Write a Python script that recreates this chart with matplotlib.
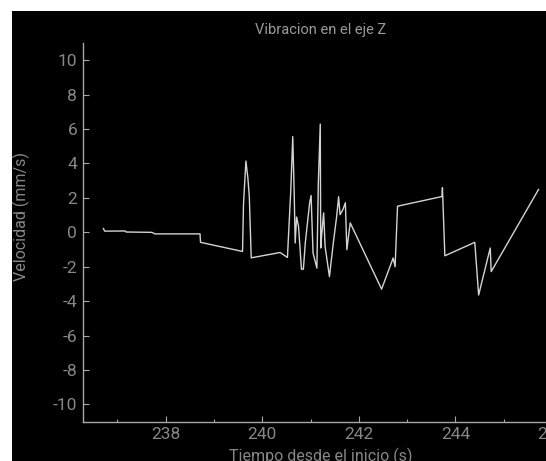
import matplotlib
matplotlib.use("Agg")
import matplotlib.pyplot as plt
from matplotlib.patches import Rectangle
from matplotlib.ticker import MultipleLocator

# Tiempo (s) y velocidad (mm/s)
tiempo = [236.71, 236.735, 237.16, 237.18, 237.71, 237.78, 238.71, 238.72,
          239.59, 239.61, 239.66, 239.70, 239.73, 239.77, 240.37, 240.52,
          240.59, 240.63, 240.66, 240.68, 240.71, 240.75, 240.81, 240.85,
          240.89, 240.98, 241.01, 241.05, 241.13, 241.16, 241.20, 241.21,
          241.23, 241.27, 241.30, 241.39, 241.47, 241.54, 241.58, 241.61,
          241.67, 241.72, 241.75, 241.82, 242.47, 242.71, 242.75, 242.80,
          243.72, 243.73, 243.75, 243.78, 244.40, 244.48, 244.72, 244.74,
          245.72]
velocidad = [0.22, 0.07, 0.08, 0.02, 0.0, -0.09, -0.09, -0.58,
             -1.11, 1.62, 4.14, 3.18, 2.10, -1.48, -1.17, -1.46,
             2.49, 5.56, 2.30, -0.62, 0.89, 0.35, -2.14, -2.14,
             -0.62, 1.72, 2.14, -1.20, -2.08, 2.88, 6.29, -0.91,
             -0.13, 1.13, -0.82, -2.57, -0.62, 0.93, 2.07, 1.03,
             1.33, 1.72, -1.01, 0.55, -3.30, -1.49, -2.0, 1.52,
             2.08, 2.59, 1.03, -1.36, -0.58, -3.64, -0.91, -2.28,
             2.49]

TITULO = "Vibracion en el eje Z"
ETIQ_X = "Tiempo desde el inicio (s)"
ETIQ_Y = "Velocidad (mm/s)"

W, H = 546, 461
GRIS = "#878787"
plt.rcParams["font.family"] = ["Roboto", "DejaVu Sans"]
plt.rcParams["axes.unicode_minus"] = False

fig = plt.figure(figsize=(W / 100, H / 100), dpi=100, facecolor="white")
# fondo negro con margen blanco arriba y a la izquierda
fig.patches.append(Rectangle((11.5 / W, 0), 1, (H - 11.5) / H,
                             transform=fig.transFigure, facecolor="black",
                             edgecolor="none", zorder=-10))

ax = fig.add_axes([82.7 / W, (H - 421.7) / H, (558.8 - 82.7) / W, (421.7 - 43) / H])
ax.set_facecolor("black")
ax.plot(tiempo, velocidad, color="#d4d4d4", linewidth=1.0)

ax.set_xlim(236.28, 246.14)
ax.set_ylim(-11, 11)
ax.xaxis.set_major_locator(MultipleLocator(2))
ax.xaxis.set_minor_locator(MultipleLocator(1))
ax.yaxis.set_major_locator(MultipleLocator(2))

for s in ("top", "right"):
    ax.spines[s].set_visible(False)
for s in ("left", "bottom"):
    ax.spines[s].set_color("#a8a8a8")
    ax.spines[s].set_linewidth(1.0)

ax.tick_params(which="major", direction="in", length=4, width=0.8,
               color="#a8a8a8", labelcolor=GRIS, labelsize=12.5, pad=4)
ax.tick_params(which="minor", direction="in", length=2.5, width=0.8,
               color="#a8a8a8")

ax.set_xlabel(ETIQ_X, color=GRIS, fontsize=11.5, labelpad=4)
fig.text(21.5 / W, 1 - 216.7 / H, ETIQ_Y, rotation=90, color=GRIS,
         fontsize=11.5, ha="center", va="center")
fig.text(320.5 / W, 1 - 29.6 / H, TITULO, color="#9a9a9a", fontsize=10.5,
         ha="center", va="center")

fig.savefig("out.png", dpi=100, facecolor=fig.get_facecolor())
